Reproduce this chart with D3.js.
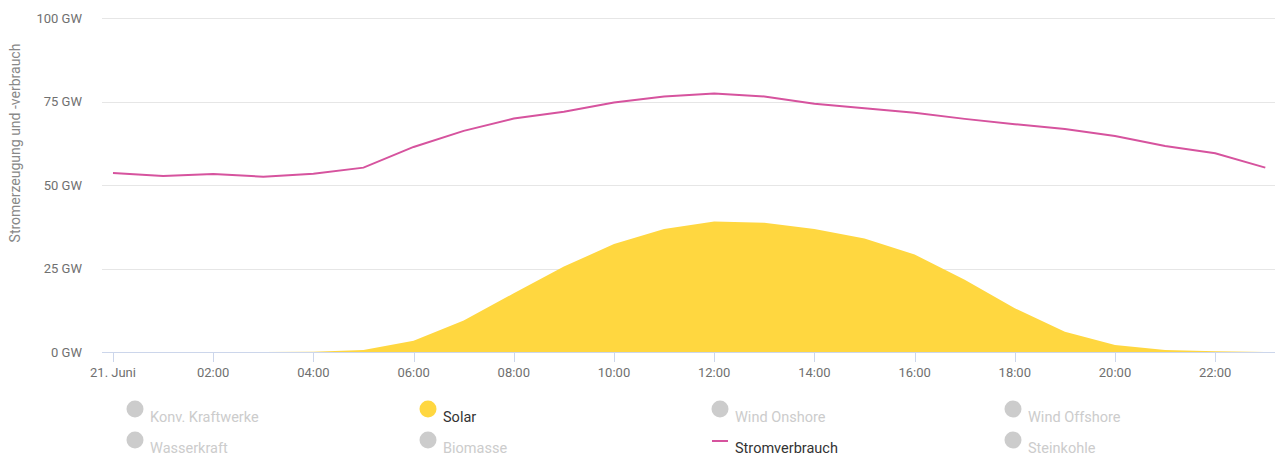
<!DOCTYPE html>
<html><head><meta charset="utf-8">
<script src="https://cdn.jsdelivr.net/npm/d3@7"></script>
<style>body{margin:0;background:#fff;font-family:Roboto,"Open Sans",sans-serif;}</style>
</head><body><svg id="c" width="1277" height="457"></svg>
<script>
const hours = d3.range(0, 24);
const tickHours = [0,2,4,6,8,10,12,14,16,18,20,22];
const tickLabels = ["21. Juni","02:00","04:00","06:00","08:00","10:00","12:00","14:00","16:00","18:00","20:00","22:00"];
const yTicks = [0,25,50,75,100];
const solar = [0,0,0,0,0.1,0.6,3.4,9.4,17.6,25.6,32.3,36.8,39.1,38.7,36.8,34.0,29.2,21.6,13.1,6.1,2.1,0.6,0.2,0];
const verbrauch = [53.6,52.7,53.3,52.5,53.4,55.2,61.4,66.2,69.9,71.9,74.7,76.5,77.4,76.5,74.3,73.0,71.6,69.8,68.2,66.8,64.7,61.7,59.5,55.2];
const legendNames = ["Konv. Kraftwerke","Wasserkraft","Solar","Biomasse","Wind Onshore","Stromverbrauch","Wind Offshore","Steinkohle"];
const legendTypes = ["dot","dot","dot","dot","dot","line","dot","dot"];
const legendActive = [false,false,true,false,false,true,false,false];

(function(){
const colorMap = {"Solar":"#ffd740","Stromverbrauch":"#d6539e"};
const svg = d3.select("#c");
const plotL = 102, plotR = 1275, pTop = 18, pBottom = 352;
const x = d3.scaleLinear().domain([0,23]).range([113, 1265.3]);
const y = d3.scaleLinear().domain([0,100]).range([pBottom, pTop]);

svg.append("g").selectAll("line").data(yTicks.filter(d=>d>0)).join("line")
  .attr("x1", plotL).attr("x2", plotR)
  .attr("y1", d=>Math.round(y(d))+0.5).attr("y2", d=>Math.round(y(d))+0.5)
  .attr("stroke","#e6e6e6").attr("stroke-width",1);

svg.append("g").selectAll("text").data(yTicks).join("text")
  .attr("x", 82).attr("y", d=>y(d)+4.5)
  .attr("text-anchor","end").attr("fill","#707070").attr("font-size","13px")
  .text(d=>d+" GW");

svg.append("text").attr("transform","translate(20,143) rotate(-90)")
  .attr("text-anchor","middle").attr("fill","#888").attr("font-size","14px")
  .text("Stromerzeugung und -verbrauch");

svg.append("path").datum(solar)
  .attr("d", d3.area().x((d,i)=>x(hours[i])).y0(y(0)).y1(d=>y(d)))
  .attr("fill","#ffd740");

svg.append("path").datum(verbrauch)
  .attr("d", d3.line().x((d,i)=>x(hours[i])).y(d=>y(d)))
  .attr("fill","none").attr("stroke","#d6539e").attr("stroke-width",2);

svg.append("line").attr("x1",plotL).attr("x2",plotR).attr("y1",pBottom+0.5).attr("y2",pBottom+0.5)
  .attr("stroke","#ccd6eb");
const xg = svg.append("g");
xg.selectAll("line").data(tickHours).join("line")
  .attr("x1",d=>Math.round(x(d))+0.5).attr("x2",d=>Math.round(x(d))+0.5)
  .attr("y1",pBottom).attr("y2",pBottom+10).attr("stroke","#ccd6eb");
xg.selectAll("text").data(tickHours).join("text")
  .attr("x",d=>x(d)).attr("y",pBottom+25)
  .attr("text-anchor","middle").attr("fill","#707070").attr("font-size","13px")
  .text((d,i)=>tickLabels[i]);

const colX = [135, 428, 720, 1013];
const rowY = [409, 440];
const lg = svg.append("g");
legendNames.forEach((name,i)=>{
  const cx = colX[Math.floor(i/2)], cy = rowY[i%2];
  const active = legendActive[i];
  if(legendTypes[i]==="dot"){
    lg.append("circle").attr("cx",cx).attr("cy",cy).attr("r",8.5)
      .attr("fill", active? colorMap[name] : "#cccccc");
  } else {
    lg.append("line").attr("x1",cx-8).attr("x2",cx+8).attr("y1",cy+1).attr("y2",cy+1)
      .attr("stroke",colorMap[name]).attr("stroke-width",2);
  }
  lg.append("text").attr("x", cx+15).attr("y", cy+13)
    .attr("fill", active? "#333":"#cccccc").attr("font-size","14.5px")
    .text(name);
});
})();
</script></body></html>
